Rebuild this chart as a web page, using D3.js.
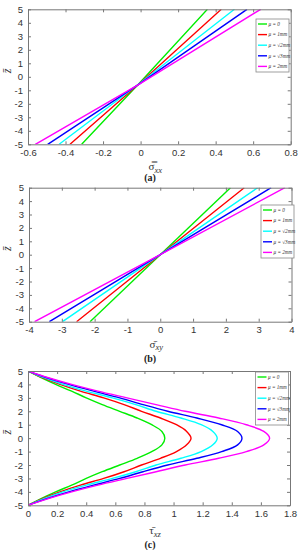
<!DOCTYPE html>
<html>
<head>
<meta charset="utf-8">
<script src="https://cdn.jsdelivr.net/npm/d3@7"></script>
<style>
  body { margin: 0; background: #fff; }
  svg { display: block; }
  .tick text { font-family: "Liberation Sans", Arial, sans-serif; font-size: 9.5px; fill: #333; }
</style>
</head>
<body>
<svg id="chart" width="302" height="550"></svg>
<script>
// series names + colours (shared by all three panels)
const seriesNames = ['μ = 0', 'μ = 1mm', 'μ = √2mm', 'μ = √3mm', 'μ = 2mm']
const seriesColors = ['#00ee00', '#ff0000', '#00ffff', '#0000ff', '#ff00ff']

// panel (a): sigma_xx vs z
const zA = [-5, -0.5, 5]
const sxx0 = [-0.314, -0.008, 0.356]
const sxx1 = [-0.376, -0.006, 0.430]
const sxx2 = [-0.434, -0.006, 0.500]
const sxx3 = [-0.495, -0.004, 0.567]
const sxx4 = [-0.561, -0.002, 0.640]
const xTicksA = [-0.6, -0.4, -0.2, 0, 0.2, 0.4, 0.6, 0.8]

// panel (b): sigma_xy vs z
const zB = [-5, 0, 5]
const sxy0 = [-2.14, 0, 2.14]
const sxy1 = [-2.55, 0, 2.56]
const sxy2 = [-2.98, 0, 2.97]
const sxy3 = [-3.38, 0, 3.38]
const sxy4 = [-3.83, 0, 3.80]
const xTicksB = [-4, -3, -2, -1, 0, 1, 2, 3, 4]

// panel (c): tau_xz vs z
const zC = [-5, -4.5, -4, -3.5, -3, -2.5, -2, -1.5, -1, -0.5, 0, 0.5, 1, 1.5, 2, 2.5, 3, 3.5, 4, 4.5, 5]
const txz0 = [0, 0.09, 0.19, 0.30, 0.40, 0.51, 0.63, 0.75, 0.85, 0.92, 0.94, 0.92, 0.85, 0.75, 0.63, 0.51, 0.40, 0.30, 0.19, 0.09, 0]
const txz1 = [0, 0.10, 0.22, 0.36, 0.52, 0.66, 0.78, 0.91, 1.02, 1.09, 1.12, 1.09, 1.02, 0.91, 0.78, 0.66, 0.52, 0.36, 0.22, 0.10, 0]
const txz2 = [0, 0.11, 0.24, 0.40, 0.58, 0.74, 0.88, 1.05, 1.19, 1.27, 1.30, 1.27, 1.19, 1.05, 0.88, 0.74, 0.58, 0.40, 0.24, 0.11, 0]
const txz3 = [0, 0.13, 0.28, 0.45, 0.63, 0.79, 0.96, 1.16, 1.33, 1.44, 1.47, 1.44, 1.33, 1.16, 0.96, 0.79, 0.63, 0.45, 0.28, 0.13, 0]
const txz4 = [0, 0.14, 0.30, 0.48, 0.68, 0.88, 1.08, 1.31, 1.50, 1.62, 1.66, 1.62, 1.50, 1.31, 1.08, 0.88, 0.68, 0.48, 0.30, 0.14, 0]
const xTicksC = [0, 0.2, 0.4, 0.6, 0.8, 1, 1.2, 1.4, 1.6, 1.8]

const zTicks = [-5, -4, -3, -2, -1, 0, 1, 2, 3, 4, 5]

const svg = d3.select('#chart')

const drawPanel = (p) => {
    const g = svg.append('g')
    const x = d3.scaleLinear().domain(p.xDomain).range([p.left, p.right])
    const y = d3.scaleLinear().domain([-5, 5]).range([p.bottom, p.top])

    //clip the lines to the axes box
    g.append('clipPath').attr('id', 'clip' + p.id)
        .append('rect')
        .attr('x', p.left).attr('y', p.top)
        .attr('width', p.right - p.left).attr('height', p.bottom - p.top)

    const line = d3.line()
        .x(d => x(d[0]))
        .y(d => y(d[1]))
        .curve(p.curve)

    p.series.forEach((s, i) => {
        g.append('path')
            .datum(s.map((v, j) => [v, p.z[j]]))
            .attr('clip-path', `url(#clip${p.id})`)
            .attr('fill', 'none')
            .attr('stroke', seriesColors[i])
            .attr('stroke-width', 1.4)
            .attr('d', line)
    })

    //axes, ticks inward on all four sides
    const fmt = d => String(d)
    g.append('g').attr('transform', `translate(0, ${p.bottom})`)
        .call(d3.axisBottom(x).tickValues(p.xTicks).tickSizeInner(-3).tickSizeOuter(0).tickPadding(5).tickFormat(fmt))
    g.append('g').attr('transform', `translate(0, ${p.top})`)
        .call(d3.axisTop(x).tickValues(p.xTicks).tickSizeInner(-3).tickSizeOuter(0).tickFormat(''))
    g.append('g').attr('transform', `translate(${p.left}, 0)`)
        .call(d3.axisLeft(y).tickValues(zTicks).tickSizeInner(-3).tickSizeOuter(0).tickPadding(5).tickFormat(fmt))
    g.append('g').attr('transform', `translate(${p.right}, 0)`)
        .call(d3.axisRight(y).tickValues(zTicks).tickSizeInner(-3).tickSizeOuter(0).tickFormat(''))
    g.selectAll('.domain').attr('stroke', '#777')
    g.selectAll('.tick line').attr('stroke', '#777')

    //legend
    const lg = g.append('g').attr('transform', `translate(${p.legX}, ${p.legY})`)
    lg.append('rect')
        .attr('width', 33).attr('height', 53)
        .attr('fill', '#fff').attr('stroke', '#888').attr('stroke-width', 0.8)
    seriesNames.forEach((n, i) => {
        const yy = 5 + i * 10.6
        lg.append('line')
            .attr('x1', 2).attr('x2', 11).attr('y1', yy).attr('y2', yy)
            .attr('stroke', seriesColors[i]).attr('stroke-width', 1.4)
        lg.append('text')
            .attr('x', 12.5).attr('y', yy + 1.8)
            .attr('font-family', '"Liberation Serif", serif')
            .attr('font-style', 'italic')
            .attr('font-size', '5.2px')
            .attr('fill', '#333')
            .text(n)
    })

    //x label
    const xl = g.append('text')
        .attr('x', (p.left + p.right) / 2 - 4)
        .attr('y', p.bottom + p.titleDy)
        .attr('text-anchor', 'middle')
        .attr('font-family', '"Liberation Serif", serif')
        .attr('font-size', '11px')
        .attr('fill', '#333')
    xl.append('tspan').text(p.sym)
    xl.append('tspan').attr('font-style', 'italic').attr('font-size', '8.5px').attr('dy', 2.5).text(p.sub)

    //z label, rotated
    g.append('text')
        .attr('transform', `translate(11, ${(p.top + p.bottom) / 2 - 6}) rotate(-90)`)
        .attr('text-anchor', 'middle')
        .attr('font-family', '"Liberation Serif", serif')
        .attr('font-style', 'italic')
        .attr('font-size', '12px')
        .attr('fill', '#333')
        .text('z̄')

    //caption
    g.append('text')
        .attr('x', 150).attr('y', p.capY)
        .attr('text-anchor', 'middle')
        .attr('font-family', '"Liberation Serif", serif')
        .attr('font-weight', 'bold')
        .attr('font-size', '10px')
        .attr('fill', '#222')
        .text(p.cap)
}

drawPanel({
    id: 'a', left: 28, right: 290.7, top: 9.3, bottom: 144.3,
    xDomain: [-0.6, 0.8], xTicks: xTicksA, z: zA,
    series: [sxx0, sxx1, sxx2, sxx3, sxx4], curve: d3.curveLinear,
    legX: 256, legY: 19, sym: 'σ̿', sub: 'xx', cap: '(a)', titleDy: 26, capY: 181
})
drawPanel({
    id: 'b', left: 29, right: 291.5, top: 187.7, bottom: 321.7,
    xDomain: [-4, 4], xTicks: xTicksB, z: zB,
    series: [sxy0, sxy1, sxy2, sxy3, sxy4], curve: d3.curveLinear,
    legX: 261, legY: 205, sym: 'σ̄', sub: 'xy', cap: '(b)', titleDy: 26, capY: 362
})
drawPanel({
    id: 'c', left: 28, right: 290, top: 371, bottom: 505.3,
    xDomain: [0, 1.8], xTicks: xTicksC, z: zC,
    series: [txz0, txz1, txz2, txz3, txz4], curve: d3.curveCatmullRom,
    legX: 255.5, legY: 372, sym: 'τ̄', sub: 'xz', cap: '(c)', titleDy: 29, capY: 548
})
</script>
</body>
</html>
